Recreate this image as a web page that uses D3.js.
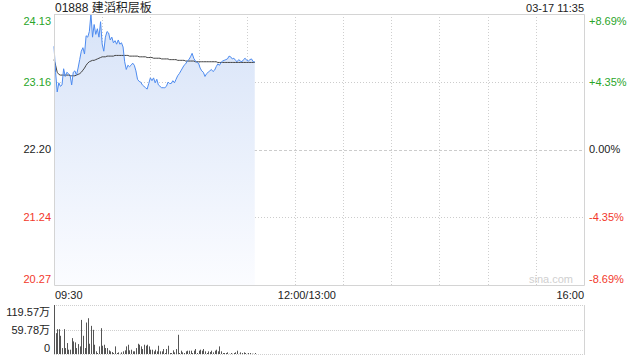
<!DOCTYPE html>
<html>
<head>
<meta charset="utf-8">
<script src="https://cdn.jsdelivr.net/npm/d3@7"></script>
<style>
  body { margin: 0; background: #fff; }
  svg text { font-family: Arial, "Liberation Sans", "Noto Sans CJK SC", sans-serif; font-size: 11px; }
</style>
</head>
<body>
<div id="chart"></div>
<script>
"use strict";

var title = "01888 建滔积层板";
var stamp = "03-17 11:35";
var prevClose = 22.20;
var priceTicks = [24.13, 23.16, 22.20, 21.24, 20.27];
var pctTicks = ["+8.69%", "+4.35%", "0.00%", "-4.35%", "-8.69%"];
var timeTicks = ["09:30", "12:00/13:00", "16:00"];
var volTicks = ["119.57万", "59.78万", "0"];
var volMax = 119.57;

// one value per minute from 09:30
var prices = [
	23.67, 23.30, 23.02, 23.15, 23.10, 23.12, 23.35, 23.24, 23.30, 23.28,
	23.26, 23.12, 23.30, 23.32, 23.26, 23.36, 23.48, 23.60, 23.65, 23.56,
	23.82, 23.80, 23.88, 24.13, 23.80, 23.98, 23.84, 23.92, 23.80, 24.02,
	23.70, 23.60, 23.80, 23.88, 23.86, 23.76, 23.80, 23.72, 23.75, 23.70,
	23.76, 23.70, 23.72, 23.66, 23.45, 23.34, 23.40, 23.38, 23.40, 23.43,
	23.40, 23.32, 23.20, 23.17, 23.16, 23.12, 23.10, 23.08, 23.06, 23.14,
	23.22, 23.18, 23.22, 23.15, 23.20, 23.12, 23.10, 23.08, 23.08, 23.08,
	23.10, 23.16, 23.14, 23.14, 23.18, 23.15, 23.20, 23.25, 23.28, 23.32,
	23.36, 23.40, 23.42, 23.46, 23.48, 23.52, 23.57, 23.50, 23.46, 23.44,
	23.43, 23.36, 23.32, 23.30, 23.24, 23.28, 23.30, 23.32, 23.34, 23.31,
	23.33, 23.38, 23.42, 23.40, 23.44, 23.46, 23.47, 23.48, 23.49, 23.53,
	23.52, 23.49, 23.50, 23.47, 23.45, 23.48, 23.46, 23.45, 23.48, 23.50,
	23.47, 23.46, 23.48, 23.49, 23.45, 23.45
];
var avgPrices = [
	23.48, 23.40, 23.30, 23.27, 23.26, 23.26, 23.26, 23.26, 23.26, 23.26,
	23.25, 23.25, 23.25, 23.25, 23.26, 23.27, 23.28, 23.30, 23.33, 23.36,
	23.40, 23.43, 23.45, 23.46, 23.47, 23.47, 23.48, 23.49, 23.50, 23.51,
	23.52, 23.52, 23.52, 23.53, 23.53, 23.53, 23.53, 23.53, 23.54, 23.54,
	23.54, 23.54, 23.54, 23.54, 23.54, 23.54, 23.54, 23.53, 23.53, 23.53,
	23.53, 23.53, 23.53, 23.52, 23.52, 23.52, 23.52, 23.52, 23.51, 23.51,
	23.51, 23.51, 23.50, 23.50, 23.50, 23.50, 23.50, 23.49, 23.49, 23.49,
	23.49, 23.49, 23.48, 23.48, 23.48, 23.48, 23.48, 23.47, 23.47, 23.47,
	23.47, 23.47, 23.46, 23.46, 23.46, 23.46, 23.46, 23.46, 23.45, 23.45,
	23.45, 23.45, 23.45, 23.45, 23.45, 23.45, 23.45, 23.45, 23.45, 23.45,
	23.45, 23.45, 23.44, 23.44, 23.44, 23.44, 23.44, 23.44, 23.44, 23.44,
	23.44, 23.44, 23.44, 23.44, 23.44, 23.44, 23.44, 23.44, 23.44, 23.44,
	23.44, 23.44, 23.44, 23.44, 23.44, 23.44
];
var volumes = [
	119.6, 50.9, 60.6, 60.6, 44.4, 14.5, 60.6, 14.5, 26.7, 10.5,
	10.5, 38.8, 30.7, 28.3, 14.5, 24.2, 18.6, 83.2, 44.4, 14.5,
	76.8, 87.3, 25.0, 68.7, 59.0, 22.6, 6.5, 2.4, 18.6, 63.0,
	20.2, 22.6, 14.5, 14.5, 8.9, 6.5, 4.8, 2.4, 18.6, 2.4,
	4.0, 0.5, 4.0, 6.5, 8.9, 18.6, 22.6, 8.9, 10.5, 6.5,
	6.5, 14.5, 25.0, 22.6, 18.6, 12.1, 22.6, 20.2, 22.6, 18.6,
	10.5, 10.5, 6.5, 10.5, 6.5, 20.2, 6.5, 6.5, 12.1, 2.4,
	12.1, 20.2, 2.4, 2.4, 8.9, 4.0, 12.1, 46.9, 2.4, 8.1,
	4.0, 2.4, 6.5, 8.1, 8.1, 8.1, 2.4, 8.1, 12.1, 2.4,
	8.1, 10.5, 8.1, 12.1, 6.5, 2.4, 6.5, 4.8, 8.1, 4.0,
	8.1, 10.5, 6.5, 18.6, 6.5, 2.4, 2.4, 2.4, 4.0, 0.5,
	2.4, 0.5, 2.4, 4.0, 8.1, 0.5, 4.0, 2.4, 4.0, 2.4,
	0.5, 2.4, 2.4, 0.8, 0.5, 2.4
];

var width = 640, height = 360;
var left = 54, right = 584;
var pTop = 14, pBottom = 285;
var vTop = 305, vBottom = 354;
var totalMinutes = 330;

var x = d3.scaleLinear().domain([0, totalMinutes]).range([left, right]);
var y = d3.scaleLinear().domain([priceTicks[4], priceTicks[0]]).range([pBottom, pTop]);
var yv = d3.scaleLinear().domain([0, volMax]).range([vBottom, vTop]);

var svg = d3.select("#chart").append("svg")
	.attr("width", width)
	.attr("height", height);

var grad = svg.append("defs").append("linearGradient")
	.attr("id", "fillGrad")
	.attr("gradientUnits", "userSpaceOnUse")
	.attr("x1", 0).attr("y1", pTop).attr("x2", 0).attr("y2", pBottom);
grad.append("stop").attr("offset", "0%").attr("stop-color", "#d7e3f8");
grad.append("stop").attr("offset", "100%").attr("stop-color", "#fbfcff");

// grid: vertical every 30 minutes
var grid = svg.append("g");
var halfHours = d3.range(1, 11);
grid.selectAll(".vg").data(halfHours).enter().append("line")
	.attr("x1", function(d) { return Math.round(x(d * 30)) + 0.5; })
	.attr("x2", function(d) { return Math.round(x(d * 30)) + 0.5; })
	.attr("y1", pTop).attr("y2", pBottom)
	.attr("stroke", "#cfcfcf").attr("stroke-dasharray", "1,2");

grid.selectAll(".hg").data(priceTicks.slice(1, 4)).enter().append("line")
	.attr("x1", left).attr("x2", right)
	.attr("y1", function(d) { return Math.round(y(d)) + 0.5; })
	.attr("y2", function(d) { return Math.round(y(d)) + 0.5; })
	.attr("stroke", "#cccccc")
	.attr("stroke-dasharray", function(d) { return d === prevClose ? "3,2" : "1,2"; });

// price area + line
var area = d3.area()
	.x(function(d, i) { return x(i); })
	.y0(pBottom)
	.y1(function(d) { return y(d); });
var line = d3.line()
	.x(function(d, i) { return x(i); })
	.y(function(d) { return y(d); });

svg.append("path").datum(prices)
	.attr("d", area)
	.attr("fill", "url(#fillGrad)");

svg.append("path").datum(avgPrices)
	.attr("d", line)
	.attr("fill", "none")
	.attr("stroke", "#444")
	.attr("stroke-width", 1);

svg.append("path").datum(prices)
	.attr("d", line)
	.attr("fill", "none")
	.attr("stroke", "#4d8bf0")
	.attr("stroke-width", 1);

// price panel border
svg.append("path")
	.attr("d", "M" + (left + 0.5) + "," + pTop + "V" + (pBottom + 0.5) + "H" + (right + 0.5) + "V" + (pTop + 0.5) + "H" + (left + 0.5))
	.attr("fill", "none").attr("stroke", "#d4d4d4");

// watermark
svg.append("text").attr("x", 573).attr("y", 283)
	.attr("text-anchor", "end").attr("fill", "#d0d0d0").text("sina.com");

// left and right labels
var labelY = function(d, i) {
	var v = y(d);
	if (i === 0) v += 7;
	if (i === priceTicks.length - 1) v -= 6;
	return v;
};
var tickColor = function(i) {
	if (i < 2) return "#2aa52a";
	if (i > 2) return "#f2382b";
	return "#222";
};
svg.selectAll(".pl").data(priceTicks).enter().append("text")
	.attr("x", 51)
	.attr("y", labelY)
	.attr("dy", "0.35em")
	.attr("text-anchor", "end")
	.attr("fill", function(d, i) { return tickColor(i); })
	.text(function(d) { return d.toFixed(2); });

svg.selectAll(".pr").data(pctTicks).enter().append("text")
	.attr("x", 589)
	.attr("y", function(d, i) { return labelY(priceTicks[i], i); })
	.attr("dy", "0.35em")
	.attr("fill", function(d, i) { return tickColor(i); })
	.text(function(d) { return d; });

// title and stamp
svg.append("text").attr("x", 55).attr("y", 12)
	.attr("fill", "#222").style("font-size", "12px").text(title);
svg.append("text").attr("x", 584).attr("y", 12)
	.attr("text-anchor", "end").attr("fill", "#222").text(stamp);

// time labels
svg.append("text").attr("x", 55).attr("y", 299).attr("fill", "#222").text(timeTicks[0]);
svg.append("text").attr("x", x(150) + 12).attr("y", 299).attr("text-anchor", "middle").attr("fill", "#222").text(timeTicks[1]);
svg.append("text").attr("x", 584).attr("y", 299).attr("text-anchor", "end").attr("fill", "#222").text(timeTicks[2]);

// volume panel
var volGrid = [volMax, volMax / 2, 0];
svg.selectAll(".vgl").data(volGrid).enter().append("line")
	.attr("x1", left).attr("x2", right)
	.attr("y1", function(d) { return Math.round(yv(d)) + 0.5; })
	.attr("y2", function(d) { return Math.round(yv(d)) + 0.5; })
	.attr("stroke", "#cfcfcf").attr("stroke-dasharray", "1,1");
svg.append("line")
	.attr("x1", right + 0.5).attr("x2", right + 0.5)
	.attr("y1", vTop).attr("y2", vBottom + 1)
	.attr("stroke", "#d4d4d4");

svg.selectAll(".vb").data(volumes).enter().append("rect")
	.attr("x", function(d, i) { return Math.round(x(i)); })
	.attr("width", 1)
	.attr("y", function(d) { return yv(d); })
	.attr("height", function(d) { return vBottom - yv(d); })
	.attr("fill", "#555");

svg.selectAll(".vl").data(volTicks).enter().append("text")
	.attr("x", 50)
	.attr("y", function(d, i) { return [312, 330, 348][i]; })
	.attr("dy", "0.35em")
	.attr("text-anchor", "end")
	.attr("fill", "#222")
	.text(function(d) { return d; });
</script>
</body>
</html>
